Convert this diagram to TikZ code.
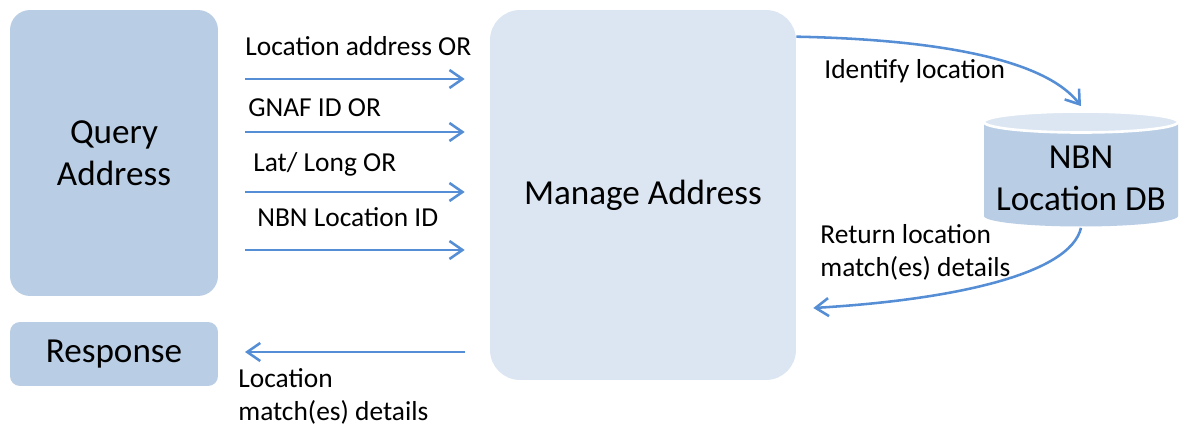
\documentclass[tikz,border=0pt]{standalone}
\usepackage{fontspec}
\setmainfont{Carlito}
\usetikzlibrary{arrows.meta, calc, positioning}
\definecolor{boxblue}{RGB}{185,205,229}
\definecolor{paleblue}{RGB}{220,230,242}
\definecolor{flowblue}{RGB}{85,142,213}
\tikzset{
    block/.style={rectangle, fill=boxblue, align=center, inner sep=0pt, font=\fontsize{20}{23.8}\selectfont},
    flow/.style={draw=flowblue, line width=1.45pt, -{Straight Barb[length=2.6mm, width=3.6mm, line width=1.45pt]}},
    note/.style={align=left, inner sep=0pt, font=\fontsize{15.6}{18.9}\selectfont}
}
\begin{document}
\begin{tikzpicture}[x=0.02cm, y=0.02cm]
    \useasboundingbox (0,0) rectangle (1184,-432);
    \node[block, rounded corners=0.4cm, minimum width=4.16cm, minimum height=5.72cm] (query) at (114,-153) {Query\\Address};
    \node[block, rounded corners=0.2cm, minimum width=4.16cm, minimum height=1.28cm] (response) at (114,-354) {Response};
    \node[block, fill=paleblue, rounded corners=0.6cm, minimum width=6.12cm, minimum height=7.4cm] (manage) at (643,-195) {Manage Address};
    \fill[boxblue] (984,-122) -- (984,-216) arc[start angle=180, end angle=360, x radius=97, y radius=10.5] -- (1178,-122) -- cycle;
    \filldraw[fill=paleblue, draw=white, line width=1.5pt] (1081,-122) ellipse[x radius=97, y radius=10.5];
    \node[block, fill=none, minimum width=3.88cm, minimum height=2.42cm] (db) at (1081,-167) {};
    \node[block, fill=none] (dbname) at (1081,-178) {NBN\\Location DB};
        \foreach \y/\b/\x/\txt in {79/56/245/{Location address OR},
                                 132/117/248/{GNAF ID OR},
                                 192/172/253/{Lat/ Long OR},
                                 250/227/257/{NBN Location ID}
                                 } {
            \coordinate (in) at (245,-\y);
            \draw[flow, shorten >=0.5cm] (in) -- (in -| manage.west);
            \node[note, anchor=base west] at (\x,-\b) {\txt};
        }
    \coordinate (out) at (245,-352);
    \draw[flow, shorten <=0.5cm] (out -| manage.west) -- (out);
    \node[note, anchor=north west] (outlabel) at (238,-368) {Location\\match(es) details};
    \draw[flow] ([yshift=-0.54cm]manage.north east) .. controls (960,-40) and (1050,-65) .. (db.north);
    \node[note, anchor=base west] (identify) at (824,-79) {Identify location};
    \draw[flow] (db.south) .. controls (1070,-275) and (950,-300) .. ([xshift=0.34cm]manage.east |- 0,-308);
    \node[note, anchor=north west] (return) at (820,-224) {Return location\\match(es) details};
\end{tikzpicture}
\end{document}
